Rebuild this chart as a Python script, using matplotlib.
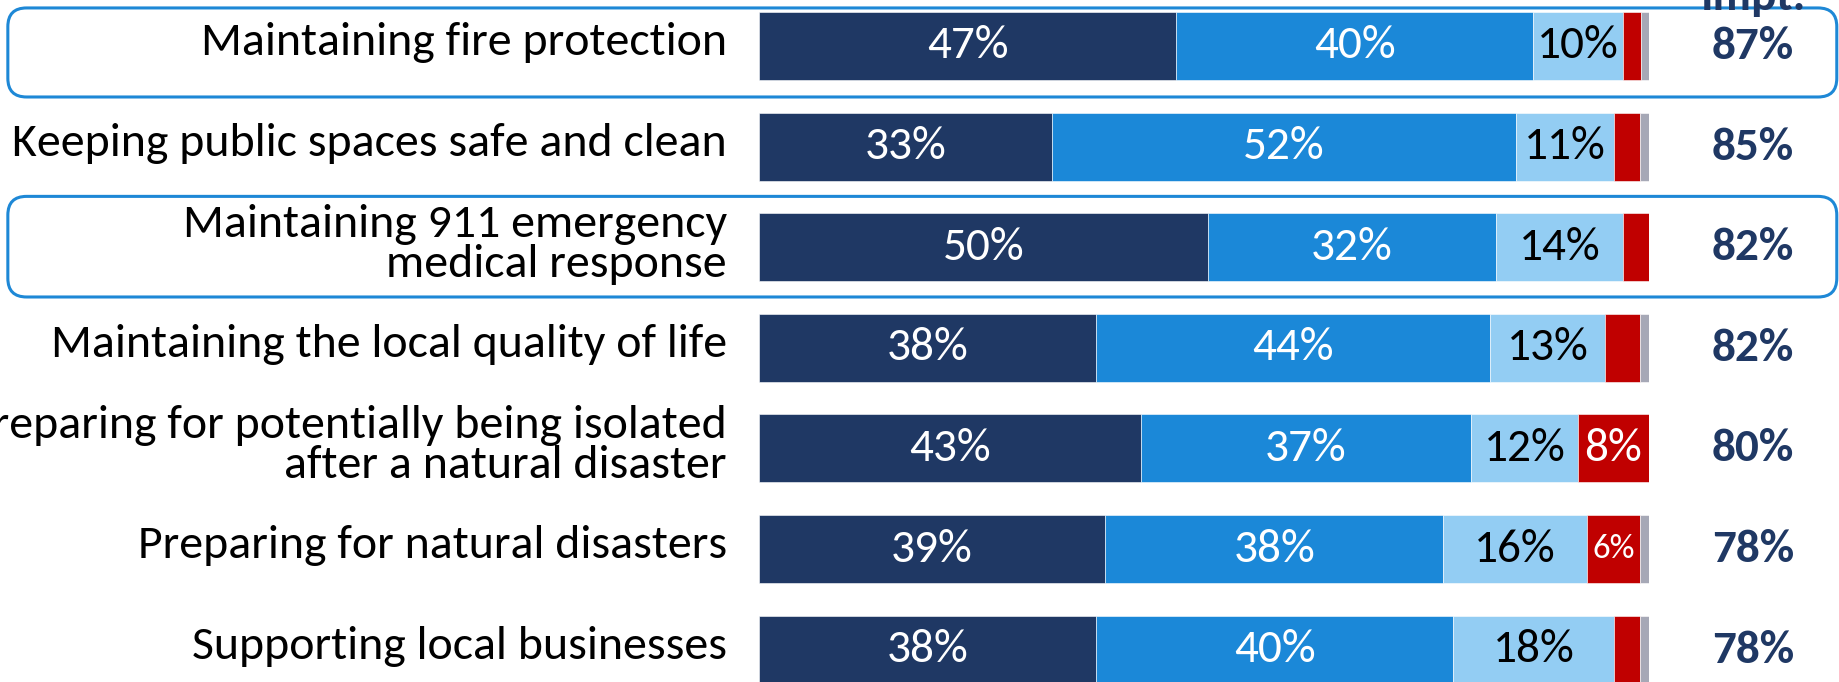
import matplotlib
matplotlib.use("Agg")
import matplotlib.pyplot as plt
from matplotlib.patches import FancyBboxPatch

categories = [
    "Maintaining fire protection",
    "Keeping public spaces safe and clean",
    "Maintaining 911 emergency\nmedical response",
    "Maintaining the local quality of life",
    "Preparing for potentially being isolated\nafter a natural disaster",
    "Preparing for natural disasters",
    "Supporting local businesses",
]
extremely_important = [46.9, 32.9, 50.4, 37.9, 42.9, 38.9, 37.9]
very_important = [40.1, 52.1, 32.4, 44.2, 37.1, 38.0, 40.1]
somewhat_important = [10.1, 11.1, 14.3, 13.0, 12.0, 16.1, 18.1]
not_important = [2.0, 2.9, 2.9, 3.9, 8.0, 6.0, 2.9]
dont_know = [0.95, 1.0, 0.0, 1.0, 0.0, 1.0, 1.0]
total_important = ["87%", "85%", "82%", "82%", "80%", "78%", "78%"]
highlighted_rows = [0, 2]
header = "Impt."

series = [extremely_important, very_important, somewhat_important, not_important, dont_know]
colors = ["#1F3864", "#1B88D8", "#93CDF3", "#C00000", "#A6A8B6"]
text_colors = ["white", "white", "black", "white", None]

plt.rcParams["font.family"] = ["Carlito", "DejaVu Sans"]

fig = plt.figure(figsize=(18.39, 6.82), dpi=100)
ax = fig.add_axes([759 / 1839, 0, 890 / 1839, 1])
ax.set_xlim(0, 100)
ax.set_ylim(6.322, -0.457)
ax.axis("off")

ypos = list(range(len(categories)))
left = [0.0] * len(categories)
for vals, col, tcol in zip(series, colors, text_colors):
    ax.barh(ypos, vals, left=left, height=0.676, color=col, edgecolor="white", linewidth=0.4)
    if tcol is not None:
        for i, v in enumerate(vals):
            if v >= 5.5:
                fs = 25 if v < 7 else 34
                ax.text(left[i] + v / 2, i, f"{round(v)}%", ha="center", va="center",
                        color=tcol, fontsize=fs)
    left = [l + v for l, v in zip(left, vals)]

for i, (cat, tot) in enumerate(zip(categories, total_important)):
    ax.text(-3.6, i - 0.03, cat, ha="right", va="center", fontsize=34.5, color="black",
            linespacing=0.97, clip_on=False)
    ax.text(111.7, i, tot, ha="center", va="center", fontsize=34, color="#1F3864",
            fontweight="bold", clip_on=False)

ax.text(111.7, -0.36, header, ha="center", va="baseline", fontsize=34, color="#1F3864",
        fontweight="bold", clip_on=False)

for r in highlighted_rows:
    top = r - 0.378 if r == 0 else r - 0.505
    bot = r + 0.507 if r == 0 else r + 0.495
    box = FancyBboxPatch((-84.4, top), 121.1 + 84.4, bot - top,
                         boxstyle="round,pad=0,rounding_size=2.1",
                         mutation_aspect=8.9 / 100.6,
                         facecolor="none", edgecolor="#1E88D6", linewidth=2.2,
                         clip_on=False)
    ax.add_patch(box)

fig.savefig("out.png", dpi=100)
